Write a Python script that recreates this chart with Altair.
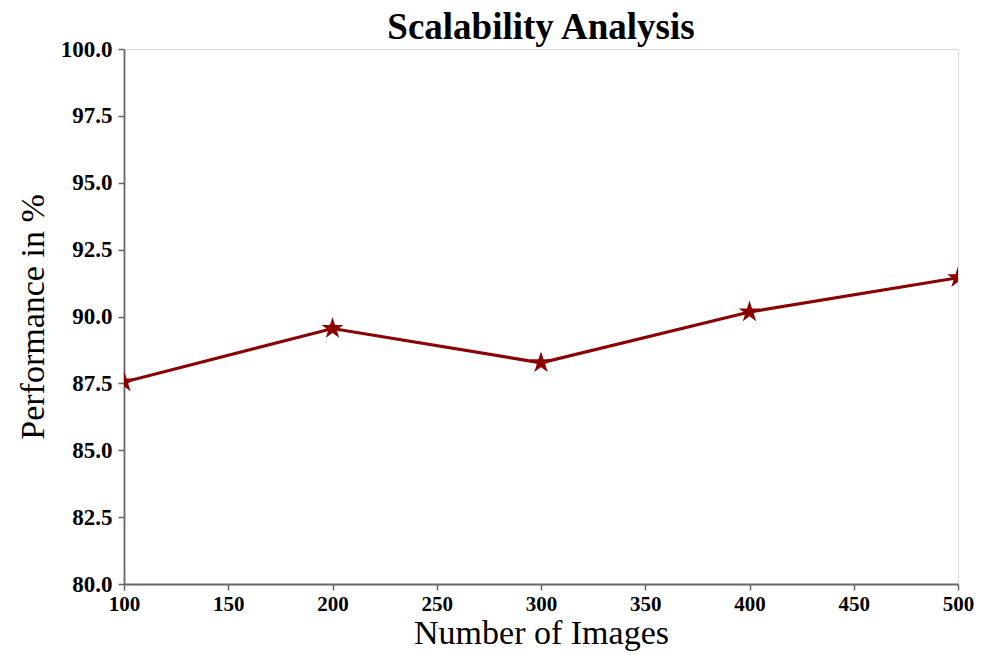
import altair as alt
import pandas as pd

images = [100, 200, 300, 400, 500]
performance = [87.55, 89.55, 88.27, 90.17, 91.45]
x_ticks = [100, 150, 200, 250, 300, 350, 400, 450, 500]
y_ticks = [80.0, 82.5, 85.0, 87.5, 90.0, 92.5, 95.0, 97.5, 100.0]

df = pd.DataFrame({"images": images, "performance": performance})

FONT = "Liberation Serif"
COLOR = "#8B0000"
AXIS = "#666666"
STAR = ("M0,-1 L0.2245,-0.309 L0.951,-0.309 L0.363,0.118 L0.588,0.809 "
        "L0,0.382 L-0.588,0.809 L-0.363,0.118 L-0.951,-0.309 L-0.2245,-0.309 Z")

x = alt.X("images:Q", scale=alt.Scale(domain=[100, 500], nice=False, zero=False),
          axis=alt.Axis(values=x_ticks, title="Number of Images", format="d",
                        labelFont=FONT, labelFontSize=21, labelFontWeight="bold",
                        labelColor="black", labelFlush=False,
                        titleFont=FONT, titleFontSize=34,
                        titleFontWeight="normal", titleColor="black", titlePadding=2,
                        domainColor=AXIS, domainWidth=1.8, tickColor=AXIS, tickWidth=1.5,
                        tickSize=6, grid=False, labelPadding=3))
y = alt.Y("performance:Q", scale=alt.Scale(domain=[80, 100], nice=False, zero=False),
          axis=alt.Axis(values=y_ticks, title="Performance in %", format=".1f",
                        labelFont=FONT, labelFontSize=23, labelFontWeight="bold",
                        labelColor="black", labelFlush=False,
                        titleFont=FONT, titleFontSize=34,
                        titleFontWeight="normal", titleColor="black", titlePadding=10,
                        domainColor=AXIS, domainWidth=1.8, tickColor=AXIS, tickWidth=1.5,
                        tickSize=6, grid=False, labelPadding=6))

base = alt.Chart(df).encode(x=x, y=y)
line = base.mark_line(color=COLOR, strokeWidth=3.2, clip=True)
pts = base.mark_point(shape=STAR, filled=True, color=COLOR, size=520,
                      opacity=1, clip=True)

chart = (line + pts).properties(
    width=834, height=535,
    title=alt.TitleParams("Scalability Analysis", font=FONT, fontSize=37,
                          fontWeight="bold", color="black", offset=-9),
    padding={"left": 124, "top": 49, "right": 30, "bottom": 71},
    autosize=alt.AutoSizeParams(type="none"),
).configure_view(stroke=AXIS, strokeWidth=1.8).configure(background="white")

chart.save("out.html", embed_options={"renderer": "svg", "actions": False})
